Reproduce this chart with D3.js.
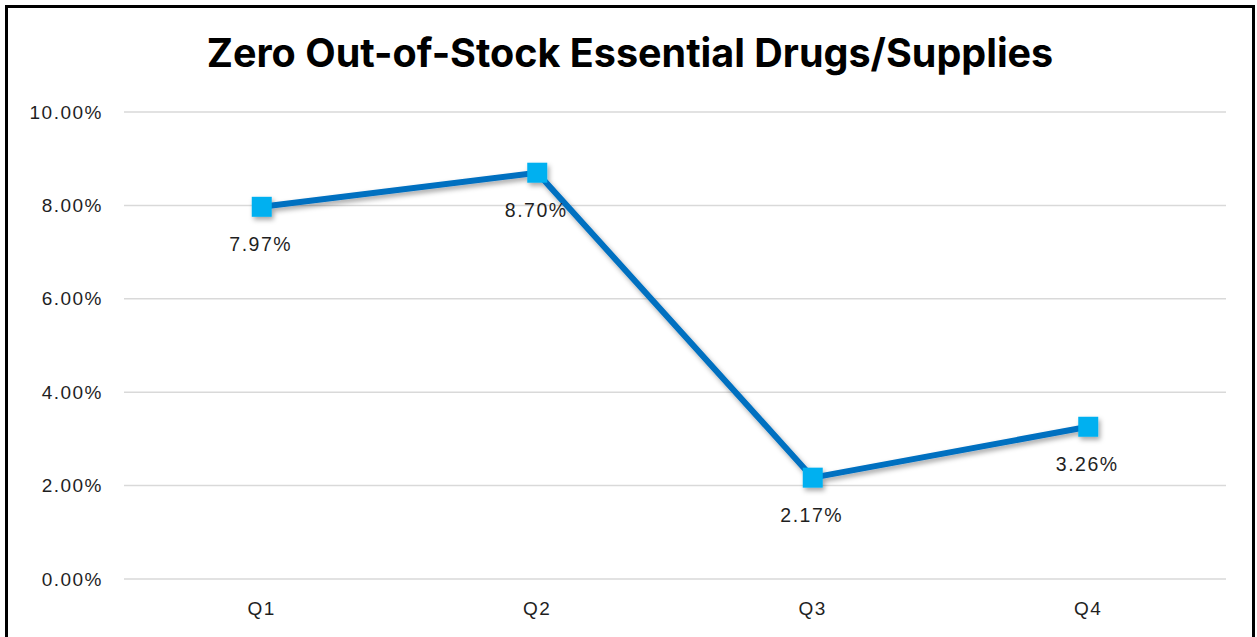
<!DOCTYPE html>
<html><head><meta charset="utf-8">
<script src="https://cdn.jsdelivr.net/npm/d3@7"></script>
<style>body{margin:0;background:#fff;} svg{display:block;}</style>
</head><body>
<svg id="chart" width="1257" height="637"></svg>
<script>
const categories = ["Q1","Q2","Q3","Q4"];
const values = [0.0797, 0.0870, 0.0217, 0.0326];
const labels = ["7.97%","8.70%","2.17%","3.26%"];
const yTicks = [0, 0.02, 0.04, 0.06, 0.08, 0.10];
const title = "Zero Out-of-Stock Essential Drugs/Supplies";

const svg = d3.select("#chart");
const font = "'Liberation Sans', Arial, sans-serif";

// frame
svg.append("rect").attr("x",6.5).attr("y",6.5).attr("width",1247).attr("height",640)
  .attr("fill","#fff").attr("stroke","#000").attr("stroke-width",3);

const defs = svg.append("defs");
const f = defs.append("filter").attr("id","sh").attr("x","-20%").attr("y","-20%").attr("width","140%").attr("height","140%");
f.append("feDropShadow").attr("dx",2).attr("dy",3).attr("stdDeviation",2.5).attr("flood-color","#000").attr("flood-opacity",0.35);

svg.append("text").attr("x",630).attr("y",67).attr("text-anchor","middle")
  .attr("font-family","Inter, 'Liberation Sans', sans-serif").attr("font-weight","bold")
  .attr("font-size",39.5).attr("fill","#000").text(title);

const x = d3.scaleBand().domain(categories).range([124,1226]);
const y = d3.scaleLinear().domain([0,0.10]).range([579,112]);

// gridlines
svg.append("g").selectAll("line").data(yTicks).join("line")
  .attr("x1",124).attr("x2",1226).attr("y1",d=>y(d)).attr("y2",d=>y(d))
  .attr("stroke","#d9d9d9").attr("stroke-width",1.5);

// y axis
const yAxis = svg.append("g").attr("transform","translate(111,0)")
  .call(d3.axisLeft(y).tickValues(yTicks).tickFormat(d3.format(".2%")).tickSize(0).tickPadding(8));
yAxis.select(".domain").remove();
yAxis.selectAll("text").attr("font-family",font).attr("font-size",19).attr("letter-spacing",1.5).attr("fill","#1f1f1f");

// x axis
const xAxis = svg.append("g").attr("transform","translate(0,594)")
  .call(d3.axisBottom(x).tickSize(0).tickPadding(8));
xAxis.select(".domain").remove();
xAxis.selectAll("text").attr("font-family",font).attr("font-size",19).attr("letter-spacing",1.5).attr("fill","#1f1f1f");

const cx = (d,i)=> x(categories[i]) + x.bandwidth()/2;
const line = d3.line().x((d,i)=>cx(d,i)).y(d=>y(d));

const g = svg.append("g").attr("filter","url(#sh)");
g.append("path").datum(values).attr("d",line).attr("fill","none")
  .attr("stroke","#0070C0").attr("stroke-width",6).attr("stroke-linejoin","round");
g.selectAll("rect").data(values).join("rect")
  .attr("x",(d,i)=>cx(d,i)-10).attr("y",d=>y(d)-10).attr("width",20).attr("height",20)
  .attr("fill","#00B0F0");

svg.append("g").selectAll("text").data(values).join("text")
  .attr("x",(d,i)=>cx(d,i)-1).attr("y",d=>y(d)+44)
  .attr("text-anchor","middle").attr("font-family",font).attr("font-size",19.5).attr("letter-spacing",1.5)
  .attr("fill","#1f1f1f").text((d,i)=>labels[i]);
</script>
</body></html>
